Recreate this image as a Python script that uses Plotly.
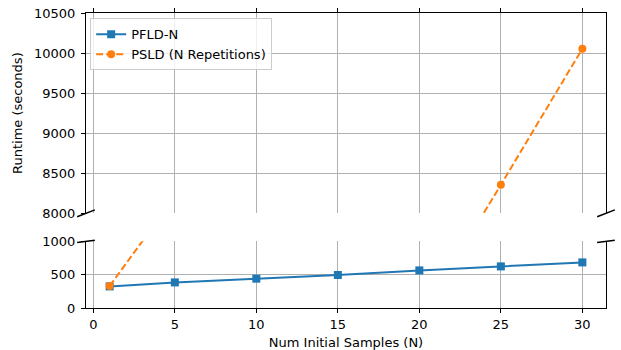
import plotly.graph_objects as go

# ---- data ----
n_pfld = [1, 5, 10, 15, 20, 25, 30]
t_pfld = [324, 384, 440, 495, 564, 624, 684]
n_psld = [1, 25, 30]
t_psld = [330, 8355, 10055]

x_ticks = [0, 5, 10, 15, 20, 25, 30]
top_ticks = [8000, 8500, 9000, 9500, 10000, 10500]
bot_ticks = [0, 500, 1000]

BLUE = "#1f77b4"
ORANGE = "#ff7f0e"
FONT = "DejaVu Sans"
FS = 13

fig = go.Figure()
for ax_x, ax_y, show in (("x", "y", True), ("x2", "y2", False)):
    fig.add_trace(go.Scatter(
        x=n_pfld, y=t_pfld, name="PFLD-N", mode="lines+markers",
        line=dict(color=BLUE, width=2), marker=dict(symbol="square", size=8, color=BLUE),
        xaxis=ax_x, yaxis=ax_y, legendgroup="a", showlegend=show, cliponaxis=True))
    fig.add_trace(go.Scatter(
        x=n_psld, y=t_psld, name="PSLD (N Repetitions)", mode="lines+markers",
        line=dict(color=ORANGE, width=2, dash="7px,3px"), marker=dict(symbol="circle", size=8, color=ORANGE),
        xaxis=ax_x, yaxis=ax_y, legendgroup="b", showlegend=show, cliponaxis=True))

tickfont = dict(family=FONT, size=FS, color="black")
titlefont = dict(family=FONT, size=FS, color="black")
common_x = dict(range=[-0.45, 31.45], tickvals=x_ticks, ticktext=[str(v) for v in x_ticks],
                showgrid=True, gridcolor="#b0b0b0",
                gridwidth=0.8, showline=True, linecolor="black", linewidth=1,
                ticks="outside", ticklen=4, tickwidth=1, tickcolor="black", zeroline=False,
                tickfont=tickfont, automargin=False)
common_y = dict(showgrid=True, gridcolor="#b0b0b0", gridwidth=0.8, showline=True,
                linecolor="black", linewidth=1, mirror=True, ticks="outside", ticklen=4,
                tickwidth=1, tickcolor="black", zeroline=False, tickfont=tickfont,
                automargin=False, ticklabelstandoff=3)

fig.update_layout(
    width=621, height=350,
    margin=dict(l=86, r=15, t=13, b=42),
    paper_bgcolor="white", plot_bgcolor="white",
    font=dict(family=FONT, size=FS, color="black"),
    xaxis=dict(anchor="y", side="top", showticklabels=False, matches="x2", **common_x),
    yaxis=dict(domain=[0.321, 1], anchor="x", range=[8000, 10500], tickvals=top_ticks,
               ticktext=[str(v) for v in top_ticks],
               title=dict(text="Runtime (seconds)", standoff=8, font=titlefont), **common_y),
    xaxis2=dict(anchor="y2", side="bottom",
                title=dict(text="Num Initial Samples (N)", standoff=7, font=titlefont),
                **common_x),
    yaxis2=dict(domain=[0, 0.226], anchor="x2", range=[0, 1000], tickvals=bot_ticks,
                ticktext=[str(v) for v in bot_ticks], **common_y),
    legend=dict(x=0.008, y=0.982, xanchor="left", yanchor="top",
                bgcolor="rgba(255,255,255,0.8)", bordercolor="#cccccc", borderwidth=1,
                font=dict(family=FONT, size=FS, color="black"), itemwidth=30, tracegroupgap=0),
    showlegend=True,
)

d = 0.017
shapes = []
for x0 in (0, 1):
    shapes.append(dict(type="line", xref="x domain", yref="y domain",
                       x0=x0 - d, x1=x0 + d, y0=-d, y1=d,
                       line=dict(color="black", width=1.5)))
    shapes.append(dict(type="line", xref="x2 domain", yref="y2 domain",
                       x0=x0 - d, x1=x0 + d, y0=1 - d, y1=1 + d,
                       line=dict(color="black", width=1.5)))
fig.update_layout(shapes=shapes)

fig.write_html("out.html", config={"displayModeBar": False},
               post_script="document.body.style.margin='0';document.body.style.overflow='hidden';")
